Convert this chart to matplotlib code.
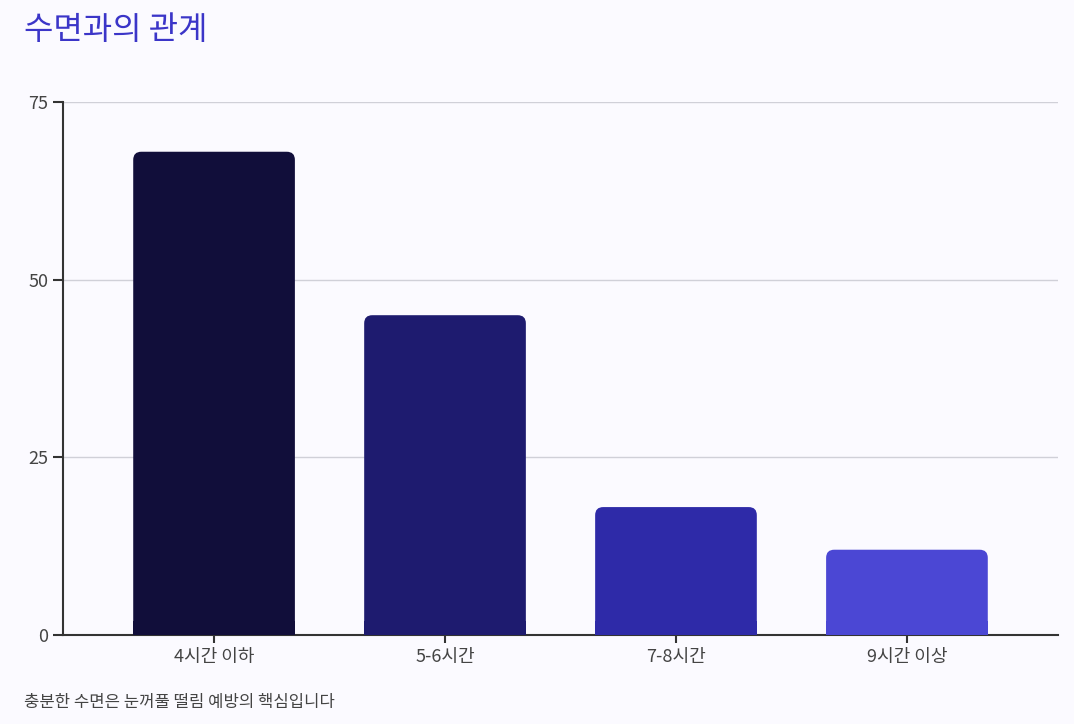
import matplotlib.pyplot as plt
from matplotlib.patches import FancyBboxPatch

plt.rcParams['font.family'] = ['Noto Sans CJK KR', 'DejaVu Sans']

categories = ['4시간 이하', '5-6시간', '7-8시간', '9시간 이상']
values = [68, 45, 18, 12]
colors = ['#110e3a', '#1e1b6f', '#2e2aa8', '#4b47d4']

bg = '#fbfaff'
fig = plt.figure(figsize=(10.74, 7.24), dpi=100, facecolor=bg)
ax = fig.add_axes([63/1074, 1-635/724, 995/1074, 533/724], facecolor=bg)

xlo, xhi = -0.654, 3.654
ax.set_xlim(xlo, xhi)
ax.set_ylim(0, 75)
aspect = (75/533) / ((xhi - xlo)/995)
w = 0.70
for i, (v, c) in enumerate(zip(values, colors)):
    ax.add_patch(FancyBboxPatch((i - w/2, 0), w, v,
                                boxstyle='round,pad=0,rounding_size=0.035',
                                mutation_aspect=aspect, fc=c, ec='none', zorder=3))
    ax.add_patch(plt.Rectangle((i - w/2, 0), w, min(v, 2), fc=c, ec='none', zorder=3))

ax.set_xticks(range(len(categories)))
ax.set_xticklabels(categories, fontsize=13, color='#444444')
ax.set_yticks([0, 25, 50, 75])
ax.tick_params(axis='y', labelsize=13, colors='#444444', length=7, width=1.5)
ax.tick_params(axis='x', length=6, width=1.5, color='#333333')
ax.tick_params(axis='y', color='#333333')
ax.grid(axis='y', color='#d0d0d8', lw=1, zorder=0)
for s in ['top', 'right']:
    ax.spines[s].set_visible(False)
for s in ['left', 'bottom']:
    ax.spines[s].set_color('#333333')
    ax.spines[s].set_linewidth(1.5)

fig.text(24/1074, 1-30/724, '수면과의 관계', fontsize=23, color='#3b35c8', va='center')
fig.text(24/1074, 1-703/724, '충분한 수면은 눈꺼풀 떨림 예방의 핵심입니다', fontsize=12, color='#444444', va='center')

fig.savefig('out.png', dpi=100, facecolor=bg)
